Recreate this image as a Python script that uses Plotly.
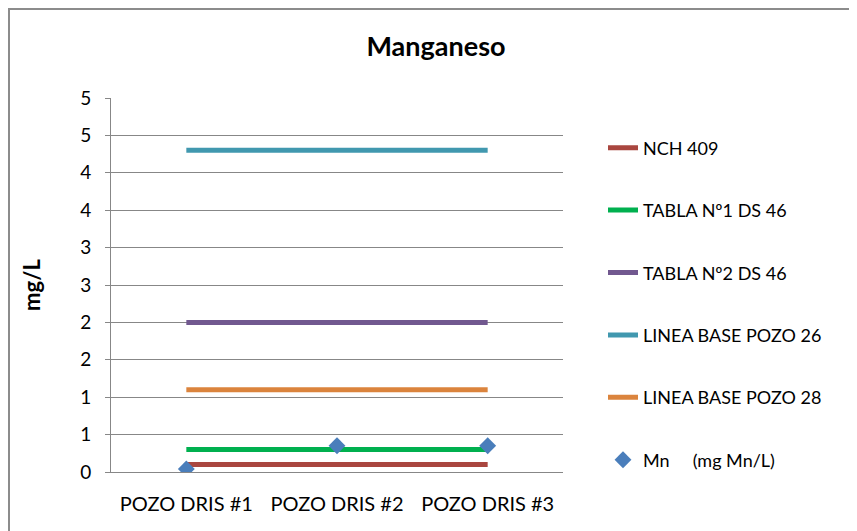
import plotly.graph_objects as go

# ─── Data ────────────────────────────────────────────────────────────────────
pozos = ["POZO DRIS #1", "POZO DRIS #2", "POZO DRIS #3"]

nch_409 = [0.1, 0.1, 0.1]
tabla1_ds46 = [0.3, 0.3, 0.3]
tabla2_ds46 = [2.0, 2.0, 2.0]
base_pozo26 = [4.3, 4.3, 4.3]
base_pozo28 = [1.1, 1.1, 1.1]
mn_values = [0.04, 0.35, 0.35]

y_tickvals = [0, 0.5, 1, 1.5, 2, 2.5, 3, 3.5, 4, 4.5, 5]
y_ticktext = ["0", "1", "1", "2", "2", "3", "3", "4", "4", "5", "5"]

FONT = "Lato, 'Open Sans', sans-serif"
GRID = "#878787"

# plot area in screen pixels (857x531 window); the page body adds an 8px offset
W, H, OFF = 857, 531, 8
L, R, T, B = 111, 563, 98, 472

series = [
    ("NCH 409", nch_409, "#A9463F"),
    ("TABLA Nº1 DS 46", tabla1_ds46, "#00B04F"),
    ("TABLA Nº2 DS 46", tabla2_ds46, "#71588F"),
    ("LINEA BASE POZO 26", base_pozo26, "#4198AF"),
    ("LINEA BASE POZO 28", base_pozo28, "#DB843D"),
]

fig = go.Figure()
for i, (name, vals, color) in enumerate(series):
    fig.add_trace(go.Scatter(
        x=pozos, y=vals, name=name, mode="lines",
        line=dict(color=color, width=5),
        legendgroup=f"g{i}",
    ))

fig.add_trace(go.Scatter(
    x=pozos, y=mn_values, name="Mn\u00a0\u00a0\u00a0\u00a0 (mg Mn/L)", mode="markers",
    marker=dict(symbol="diamond", size=13, color="#4A7EBB"),
    legendgroup="g5",
))


def px_x(p):
    return (p - L) / (R - L)


def px_y(p):
    return (B - p) / (B - T)


# chart border (Excel-style frame)
fig.add_shape(
    type="rect", xref="paper", yref="paper",
    x0=px_x(OFF + 1), x1=px_x(W + 40), y0=px_y(H + 40), y1=px_y(OFF + 1),
    line=dict(color="#8C8C8C", width=2), layer="below",
)

fig.update_layout(
    width=W, height=H,
    margin=dict(l=L - OFF, r=W - R + OFF, t=T - OFF, b=H - B + OFF),
    paper_bgcolor="white",
    plot_bgcolor="white",
    font=dict(family=FONT, size=18, color="#000000"),
    title=dict(
        text="<b>Manganeso</b>", x=(436 - OFF) / W, xanchor="center",
        y=1 - (47 - OFF) / H, yanchor="middle",
        font=dict(family=FONT, size=27, color="#000000"),
    ),
    showlegend=True,
    legend=dict(
        x=px_x(603), y=px_y(129.5), xanchor="left", yanchor="top",
        tracegroupgap=36, font=dict(size=18),
        bgcolor="rgba(0,0,0,0)",
    ),
)

fig.update_xaxes(
    type="category", range=[-0.5, 2.5],
    showgrid=False, showline=True, linecolor=GRID, linewidth=1,
    ticks="", ticklabelstandoff=14, tickfont=dict(size=20),
)
fig.update_yaxes(
    range=[0, 5], tickvals=y_tickvals, ticktext=y_ticktext,
    showgrid=True, gridcolor=GRID, gridwidth=1,
    showline=True, linecolor=GRID, linewidth=1,
    ticks="outside", ticklen=5, tickcolor=GRID, ticklabelstandoff=10,
    tickfont=dict(size=19), zeroline=False,
    title=dict(text="<b>mg/L</b>", standoff=33, font=dict(size=22)),
)

fig.write_html("out.html")
